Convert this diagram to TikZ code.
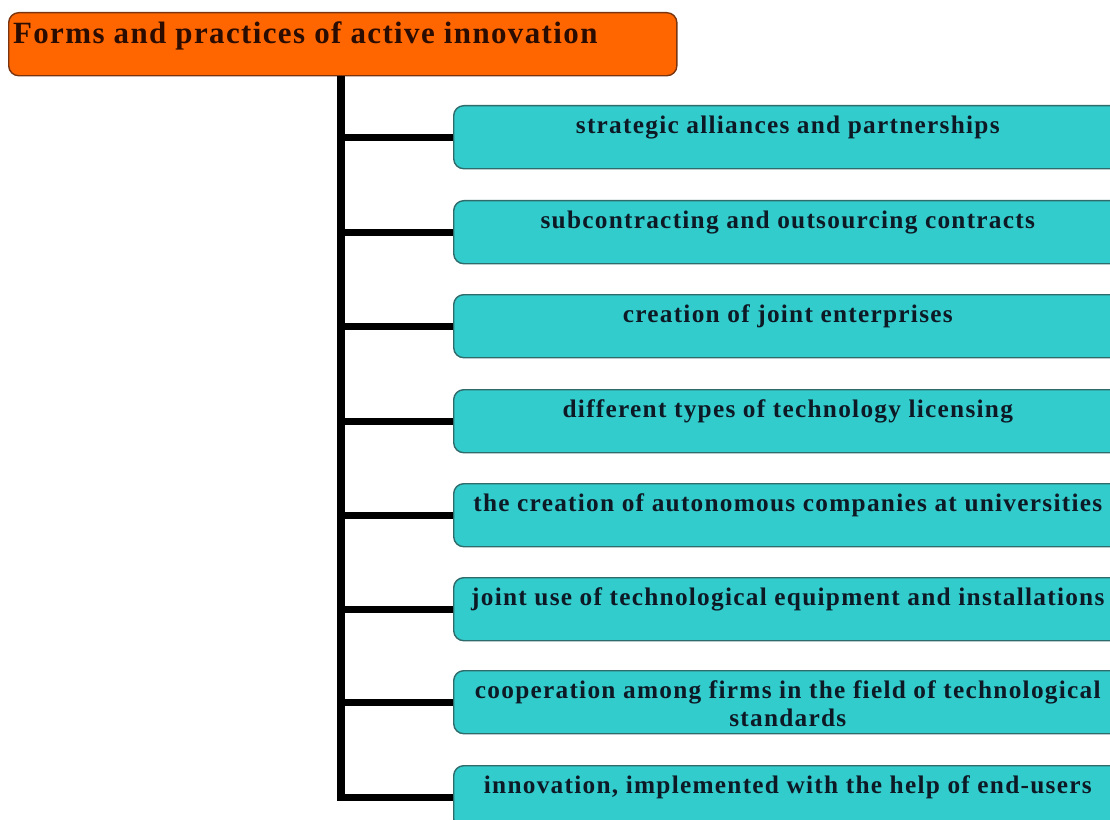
\documentclass[tikz,border=0pt]{standalone}
\usepackage{fontspec}
\setmainfont{Liberation Serif}

\definecolor{headfill}{HTML}{FF6600}
\definecolor{headline}{HTML}{7A3510}
\definecolor{headtext}{HTML}{2A0C00}
\definecolor{formfill}{HTML}{33CCCC}
\definecolor{formline}{HTML}{2F6B6B}
\definecolor{formtext}{HTML}{0D1A26}

\begin{document}
\begin{tikzpicture}[x=0.025cm, y=-0.025cm,
    head/.style = {draw=headline, fill=headfill, line width=1pt, rounded corners=2.5mm,
                   minimum width=16.7cm, minimum height=1.575cm, anchor=north west},
    form/.style = {draw=formline, fill=formfill, line width=1pt, rounded corners=2.5mm,
                   minimum width=16.7cm, minimum height=1.575cm, anchor=north west},
    headtxt/.style = {anchor=north west, inner sep=2pt, xshift=0.5mm, yshift=-1.4mm,
                   text=headtext, text height=16pt, text depth=5pt,
                   font=\bfseries\fontsize{22}{26}\selectfont\addfontfeature{LetterSpace=4.5}},
    formtxt/.style = {anchor=north, inner sep=2pt, yshift=-1.9mm, align=center, text=formtext,
                   font=\bfseries\fontsize{18}{20}\selectfont\addfontfeature{LetterSpace=5}},
    branch/.style = {line width=5pt, line join=miter}]
\useasboundingbox (0,0) rectangle (1110,820);
\clip (0,0) rectangle (1110,820);

\node[head, label={[headtxt]north west:Forms and practices of active innovation}] (title) at (8,12) {};

\node[form, label={[formtxt]north:strategic alliances and partnerships}] (f1) at (453,105) {};
\node[form, label={[formtxt]north:subcontracting and outsourcing contracts}] (f2) at (453,200) {};
\node[form, label={[formtxt]north:creation of joint enterprises}] (f3) at (453,294) {};
\node[form, label={[formtxt]north:different types of technology licensing}] (f4) at (453,389) {};
\node[form, label={[formtxt]north:the creation of autonomous companies at universities}] (f5) at (453,483) {};
\node[form, label={[formtxt]north:joint use of technological equipment and installations}] (f6) at (453,577) {};
\node[form, label={[formtxt]north:{cooperation among firms in the field of technological\\standards}}] (f7) at (453,670) {};
\node[form, label={[formtxt]north:{innovation, implemented with the help of end-users}}] (f8) at (453,765) {};

\coordinate (root) at (title.south -| 341,0);
\draw[branch] (root) |- (f8.west);
\draw[branch] (root |- f1.west) -- (f1.west);
\draw[branch] (root |- f2.west) -- (f2.west);
\draw[branch] (root |- f3.west) -- (f3.west);
\draw[branch] (root |- f4.west) -- (f4.west);
\draw[branch] (root |- f5.west) -- (f5.west);
\draw[branch] (root |- f6.west) -- (f6.west);
\draw[branch] (root |- f7.west) -- (f7.west);
\end{tikzpicture}
\end{document}
